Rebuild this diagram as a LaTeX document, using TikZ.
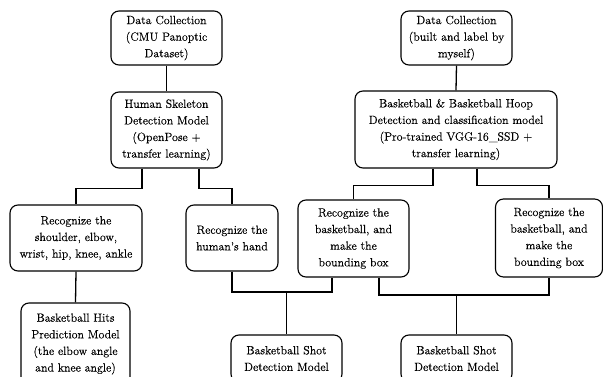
\documentclass[tikz,border=0pt]{standalone}
\usepackage{fontspec}
\newfontfamily\boxfont{Latin Modern Roman}[FakeBold=0.3]
\begin{document}
\begin{tikzpicture}[x=1pt,y=-1pt,
  box/.style={draw,line width=1.1pt,rounded corners=8pt,align=center,inner sep=0pt,
    font=\boxfont\fontsize{11.9}{16.6}\selectfont},
  conn/.style={line width=1.3pt}]
\useasboundingbox (0,0) rectangle (603,377);
\clip (0,0) rectangle (603,377);
\fill[white] (0,0) rectangle (603,377);
\node[box,minimum width=111pt,minimum height=54pt] (A) at (166.5,38) {Data Collection\\(CMU Panoptic\\Dataset)};
\node[box,minimum width=111pt,minimum height=76pt] (B) at (166.5,130) {Human Skeleton\\Detection Model\\(OpenPose +\\transfer learning)};
\node[box,minimum width=111pt,minimum height=54pt] (C) at (456.5,38) {Data Collection\\(built and label by\\myself)};
\node[box,minimum width=202pt,minimum height=77pt] (D) at (456,129.5) {Basketball \& Basketball Hoop\\Detection and classification model\\(Pro-trained VGG-16\_SSD +\\transfer learning)};
\node[box,minimum width=132pt,minimum height=66pt] (E) at (76,238) {Recognize the\\shoulder, elbow,\\wrist, hip, knee, ankle};
\node[box,minimum width=92pt,minimum height=66pt] (F) at (232,238) {Recognize the\\human’s hand};
\node[box,minimum width=111pt,minimum height=77pt] (I) at (353.5,238.5) {Recognize the\\basketball, and\\make the\\bounding box};
\node[box,minimum width=107pt,minimum height=78pt] (J) at (549,238) {Recognize the\\basketball, and\\make the\\bounding box};
\node[box,minimum width=109pt,minimum height=82pt] (G) at (75.5,344) {Basketball Hits\\Prediction Model\\(the elbow angle\\and knee angle)};
\node[box,minimum width=111pt,minimum height=47pt] (H) at (286.5,358.5) {Basketball Shot\\Detection Model};
\node[box,minimum width=111pt,minimum height=47pt] (K) at (456.5,358.5) {Basketball Shot\\Detection Model};
\coordinate (m1) at (286.5,292);
\coordinate (m2) at (456.5,295);
\draw[conn] (A.south) -- (B.north);
\draw[conn] (C.south) -- (D.north);
\draw[conn] ([xshift=-24.5pt]B.south) -- ++(0,-20pt) -| (E.north);
\draw[conn] ([xshift=32.5pt]B.south) -- ++(0,-20pt) -| (F.north);
\draw[conn] ([xshift=-23pt]D.south) -- ++(0,-17pt) -| (I.north);
\draw[conn] ([xshift=21pt]D.south) -- ++(0,-17pt) -| (J.north);
\draw[conn] (E.south) -- (G.north);
\draw[conn] (F.south) |- (m1) -| ([xshift=-21.5pt]I.south);
\draw[conn] (m1) -- (H.north);
\draw[conn] ([xshift=25.5pt]I.south) |- (m2) -| (J.south);
\draw[conn] (m2) -- (K.north);
\end{tikzpicture}
\end{document}
